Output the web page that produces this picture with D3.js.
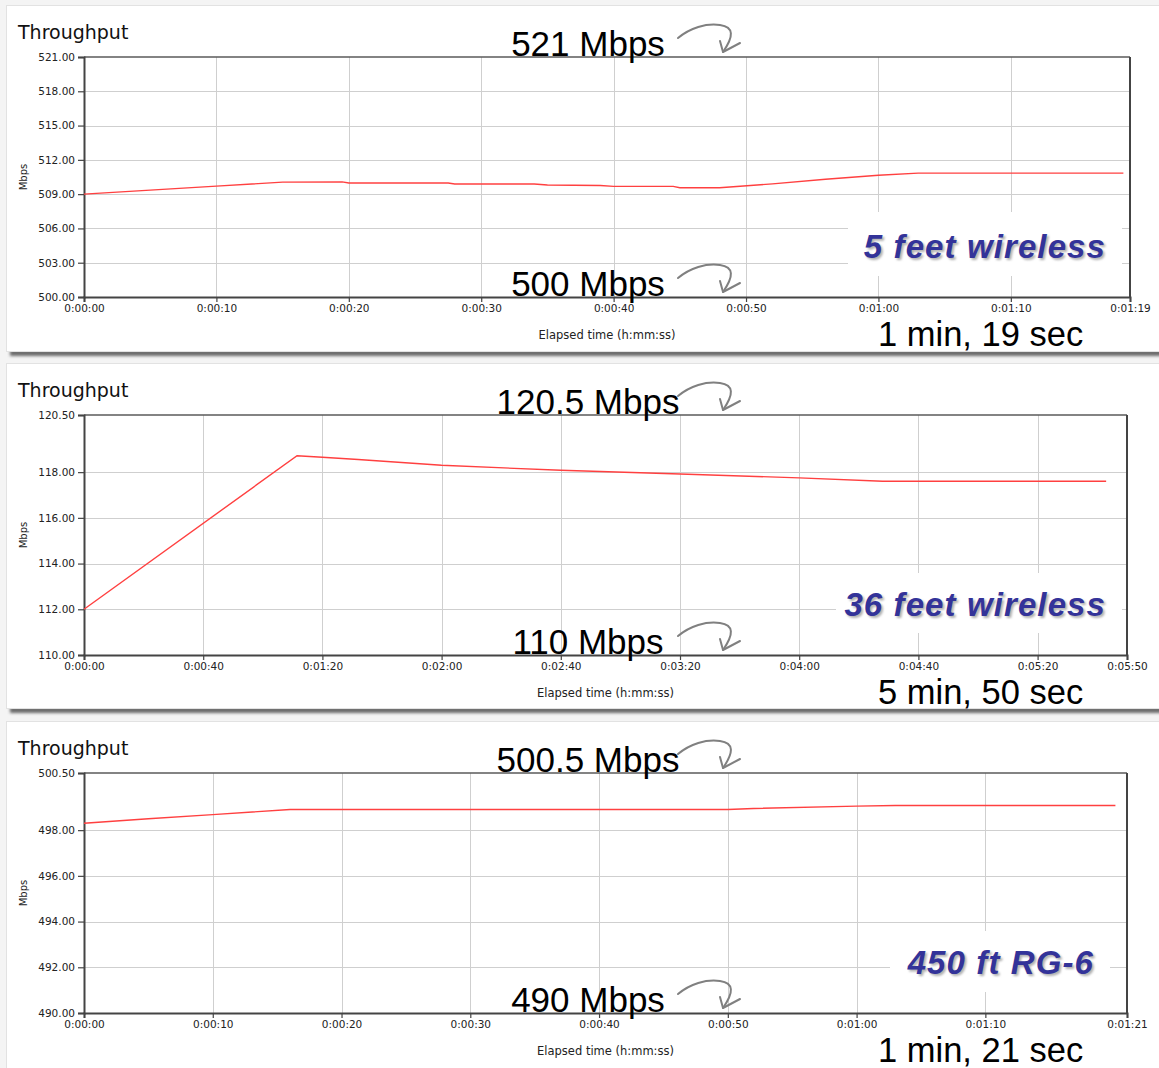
<!DOCTYPE html>
<html><head><meta charset="utf-8">
<script src="https://cdn.jsdelivr.net/npm/d3@7"></script>
<style>body{margin:0;background:#f4f4f4} svg{display:block}</style>
</head><body>
<svg id="chart" width="1159" height="1068"></svg>
<script>
// ---------- data ----------
const panel1Seconds = [0, 5, 10, 15, 19.5, 20, 27.5, 28, 34, 35, 39, 40, 44.5, 45, 48, 52, 56, 60, 63, 78.5];
const panel1Mbps    = [509.0, 509.35, 509.7, 510.05, 510.07, 509.98, 509.98, 509.89, 509.89, 509.8, 509.76, 509.68, 509.68, 509.56, 509.56, 509.9, 510.3, 510.65, 510.84, 510.84];
const panel1YTicks  = [500, 503, 506, 509, 512, 515, 518, 521];
const panel1XTicks  = [0, 10, 20, 30, 40, 50, 60, 70, 79];

const panel2Seconds = [0, 71.5, 80, 92, 120, 160, 200, 240, 268, 343];
const panel2Mbps    = [112.0, 118.72, 118.65, 118.55, 118.3, 118.08, 117.92, 117.75, 117.6, 117.6];
const panel2YTicks  = [110, 112, 114, 116, 118, 120.5];
const panel2XTicks  = [0, 40, 80, 120, 160, 200, 240, 280, 320, 350];

const panel3Seconds = [0, 5, 10, 16, 50, 52, 60, 63, 80.1];
const panel3Mbps    = [498.3, 498.5, 498.68, 498.9, 498.9, 498.95, 499.05, 499.08, 499.08];
const panel3YTicks  = [490, 492, 494, 496, 498, 500.5];
const panel3XTicks  = [0, 10, 20, 30, 40, 50, 60, 70, 81];

const chartTitle   = "Throughput";
const yAxisLabel   = "Mbps";
const xAxisLabel   = "Elapsed time (h:mm:ss)";
const topNotes     = ["521 Mbps", "120.5 Mbps", "500.5 Mbps"];
const bottomNotes  = ["500 Mbps", "110 Mbps", "490 Mbps"];
const durationNotes= ["1 min, 19 sec", "5 min, 50 sec", "1 min, 21 sec"];
const setupLabels  = ["5 feet wireless", "36 feet wireless", "450 ft RG-6"];

// ---------- layout ----------
const panels = [
  {sec: panel1Seconds, val: panel1Mbps, yt: panel1YTicks, xt: panel1XTicks, top: 5,   bottom: 351, right: 1130,
   box: [848, 212, 274, 64], labelRight: 1106},
  {sec: panel2Seconds, val: panel2Mbps, yt: panel2YTicks, xt: panel2XTicks, top: 363, bottom: 708, right: 1127,
   box: [836, 573, 286, 60], labelRight: 1106},
  {sec: panel3Seconds, val: panel3Mbps, yt: panel3YTicks, xt: panel3XTicks, top: 721, bottom: 1075, right: 1127,
   box: [890, 931, 220, 61], labelRight: 1094}
];

const svg = d3.select("#chart");
const defs = svg.append("defs");
defs.append("filter").attr("id", "blur").attr("x", "-5%").attr("y", "-100%").attr("width", "110%").attr("height", "300%")
  .append("feGaussianBlur").attr("stdDeviation", 1.6);
defs.append("filter").attr("id", "tblur")
  .append("feGaussianBlur").attr("stdDeviation", 0.8);

function fmtTime(s) {
  const h = Math.floor(s / 3600), m = Math.floor((s % 3600) / 60), ss = Math.round(s % 60);
  return `${h}:${String(m).padStart(2, "0")}:${String(ss).padStart(2, "0")}`;
}

const tickFont = "'DejaVu Sans', sans-serif";

panels.forEach((p, i) => {
  const g = svg.append("g");
  const plotTop = p.top + 52, plotBottom = p.top + 292, plotLeft = 84;

  // card + shadow
  if (i < 2) {
    g.append("rect").attr("x", 10).attr("y", p.bottom - 1).attr("width", 1160).attr("height", 6)
      .attr("fill", "#6a6a6a").attr("filter", "url(#blur)");
  }
  g.append("rect").attr("x", 6.5).attr("y", p.top + 0.5).attr("width", 1160).attr("height", p.bottom - p.top)
    .attr("fill", "#fff").attr("stroke", "#e2e2e2");

  const x = d3.scaleLinear().domain([0, p.xt[p.xt.length - 1]]).range([plotLeft, p.right]);
  const y = d3.scaleLinear().domain([p.yt[0], p.yt[p.yt.length - 1]]).range([plotBottom, plotTop]);

  // grid
  g.append("g").selectAll("line").data(p.yt.slice(1, -1)).join("line")
    .attr("x1", plotLeft).attr("x2", p.right).attr("y1", d => Math.round(y(d)) + 0.5).attr("y2", d => Math.round(y(d)) + 0.5)
    .attr("stroke", "#cfcfcf").attr("stroke-width", 1);
  g.append("g").selectAll("line").data(p.xt.slice(1, -1)).join("line")
    .attr("x1", d => Math.round(x(d)) + 0.5).attr("x2", d => Math.round(x(d)) + 0.5).attr("y1", plotTop).attr("y2", plotBottom)
    .attr("stroke", "#cfcfcf").attr("stroke-width", 1);

  // white box behind setup label
  g.append("rect").attr("x", p.box[0]).attr("y", p.box[1]).attr("width", p.box[2]).attr("height", p.box[3]).attr("fill", "#fff");

  // frame
  g.append("line").attr("x1", plotLeft).attr("x2", p.right).attr("y1", plotTop).attr("y2", plotTop).attr("stroke", "#5a5a5a").attr("stroke-width", 1.5);
  g.append("line").attr("x1", p.right).attr("x2", p.right).attr("y1", plotTop).attr("y2", plotBottom).attr("stroke", "#444").attr("stroke-width", 2);

  // axes
  const yAxis = d3.axisLeft(y).tickValues(p.yt).tickFormat(d => d.toFixed(2)).tickSize(6).tickPadding(3);
  const ya = g.append("g").attr("transform", `translate(${plotLeft},0)`).call(yAxis);
  const xAxis = d3.axisBottom(x).tickValues(p.xt).tickFormat(fmtTime).tickSize(5).tickPadding(3);
  const xa = g.append("g").attr("transform", `translate(0,${plotBottom})`).call(xAxis);
  [ya, xa].forEach(a => {
    a.select(".domain").attr("stroke", "#444").attr("stroke-width", 2);
    a.selectAll(".tick line").attr("stroke", "#444").attr("stroke-width", 1.2);
    a.selectAll(".tick text").attr("font-family", tickFont).attr("font-size", 10.5).attr("fill", "#222");
  });

  // line
  const line = d3.line().x((d, k) => x(p.sec[k])).y(d => y(d));
  g.append("path").datum(p.val).attr("d", line).attr("fill", "none").attr("stroke", "#ff4040").attr("stroke-width", 1.4);

  // texts
  g.append("text").attr("x", 18).attr("y", p.top + 34).text(chartTitle)
    .attr("font-family", tickFont).attr("font-size", 19).attr("fill", "#111");
  g.append("text").attr("transform", `translate(27,${(plotTop + plotBottom) / 2}) rotate(-90)`).attr("text-anchor", "middle")
    .text(yAxisLabel).attr("font-family", tickFont).attr("font-size", 10).attr("fill", "#222");
  g.append("text").attr("x", (plotLeft + p.right) / 2).attr("y", plotBottom + 42).attr("text-anchor", "middle")
    .text(xAxisLabel).attr("font-family", tickFont).attr("font-size", 11.5).attr("fill", "#222");

  // setup label with shadow
  [["#b0b0b0", 2, 2, "url(#tblur)"], ["#333399", 0, 0, null]].forEach(([c, dx, dy, f]) => {
    const t = g.append("text").attr("x", p.labelRight + dx).attr("y", plotTop + 201 + dy).attr("text-anchor", "end")
      .text(setupLabels[i]).attr("font-family", "'Liberation Sans', Arial, sans-serif").attr("font-size", 33)
      .attr("font-weight", "bold").attr("font-style", "italic").attr("letter-spacing", 1.1).attr("fill", c);
    if (f) t.attr("filter", f);
  });

  // annotations
  const annFont = "'Liberation Sans', Arial, sans-serif";
  const notes = [[topNotes[i], plotTop - 1], [bottomNotes[i], plotBottom - 1]];
  notes.forEach(([txt, base]) => {
    g.append("text").attr("x", 588).attr("y", base).attr("text-anchor", "middle").text(txt)
      .attr("font-family", annFont).attr("font-size", 35).attr("fill", "#000");
    const a = g.append("g").attr("transform", `translate(678,${base})`).attr("fill", "none")
      .attr("stroke", "#808080").attr("stroke-width", 2).attr("stroke-linecap", "round").attr("stroke-linejoin", "round");
    a.append("path").attr("d", "M0,-18 C12,-28 28,-33 42,-31 C56,-29 56,-20 45,-4");
    a.append("path").attr("d", "M42,-15 L45,-4 L62,-13");
  });
  g.append("text").attr("x", 878).attr("y", plotBottom + 49).text(durationNotes[i])
    .attr("font-family", annFont).attr("font-size", 34.5).attr("fill", "#000");
});
</script>
</body></html>
